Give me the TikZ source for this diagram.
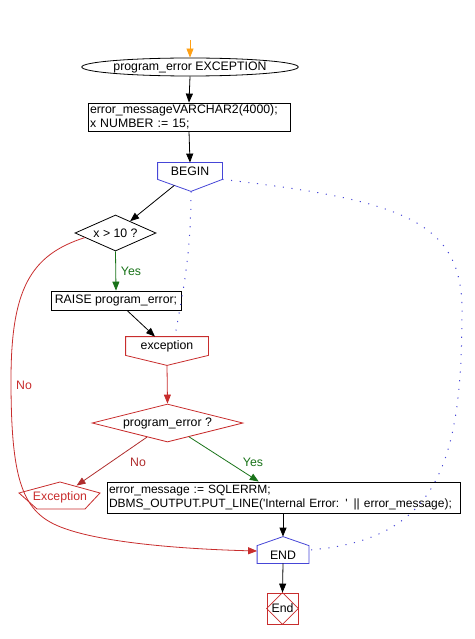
\documentclass[tikz,border=0pt]{standalone}
\usepackage{fontspec}
\setmainfont{Liberation Sans}[Ligatures=TeXOff]
\usetikzlibrary{arrows.meta,shapes.geometric,calc}
\definecolor{redc}{RGB}{200,45,45}
\definecolor{brownred}{RGB}{175,45,45}
\definecolor{greenc}{RGB}{25,115,25}
\definecolor{bluec}{RGB}{70,70,215}
\definecolor{orangec}{RGB}{255,160,20}
\begin{document}
\begin{tikzpicture}[x=1pt,y=-1pt,
  font=\fontsize{12.3pt}{13.5pt}\selectfont,
  every path/.style={line width=0.8pt},
  arr/.style={-{Triangle[length=9pt,width=7pt]}},
  dotline/.style={bluec, line width=1pt, dash pattern=on 1.1pt off 7.6pt},
  hidden/.style={rectangle, draw=none, inner sep=0pt},
  codebox/.style={rectangle, draw, inner xsep=2pt, inner ysep=0pt, align=left},
  lbl/.style={inner sep=0pt}]
\useasboundingbox (0,0) rectangle (474,639);

% start
\coordinate (start) at (190,40);
\node[ellipse, draw, minimum width=168pt, minimum height=18pt, inner sep=0pt] (decl) at (190,67) {program\_error EXCEPTION};
\draw[arr, orangec] (start) -- (decl);

% declarations
\node[codebox, minimum width=202pt, minimum height=28pt, text width=198pt] (box1) at (189,117) {error\_messageVARCHAR2(4000);\\x NUMBER := 15;};
\draw[arr] (decl.south) -- (box1.north);

% BEGIN
\node[hidden, minimum width=64pt, minimum height=16pt] (begin) at (190,171) {BEGIN};
\coordinate (bgtip) at ($(begin.south)+(1,12)$);
\draw[bluec] (begin.north west) -- (begin.north east) -- (begin.south east) -- (bgtip) -- (begin.south west) -- cycle;
\draw[arr] (box1.south) -- (begin.north);
\path (begin.south west) -- (bgtip) coordinate[pos=0.5] (bgedge);

% x > 10 ?
\node[diamond, draw, shape aspect=2.25, minimum width=81pt, minimum height=36pt, inner sep=0pt] (d1) at (115.5,233) {x > 10 ?};
\draw[arr] (bgedge) -- (d1);

% RAISE
\node[rectangle, draw, minimum width=130pt, minimum height=19pt, inner sep=0pt] (raise) at (116,300.5) {RAISE program\_error;};
\draw[arr, greenc] (d1.south) -- (raise.north);
\node[lbl, text=greenc] (yes1) at (131,271) {Yes};

% exception handler
\node[hidden, minimum width=82pt, minimum height=18pt] (exc) at (167,346) {exception};
\coordinate (exctip) at ($(exc.south)+(0,10)$);
\draw[redc] (exc.north west) -- (exc.north east) -- (exc.south east) -- (exctip) -- (exc.south west) -- cycle;
\draw[arr] ($(raise.south)+(11,0)$) -- ($(exc.north)+(-12,0)$);

% program_error ?
\node[diamond, draw=redc, shape aspect=4, minimum width=151pt, minimum height=38pt, inner sep=0pt] (d2) at (167.5,423) {program\_error ?};
\draw[arr, redc] (exctip) -- (d2.north);

% Exception (unhandled)
\node[hidden, minimum width=60pt, minimum height=22pt, text=redc] (exch) at (60,497) {Exception};
\draw[redc] (60,482) -- (100,493) -- (85,509) -- (37,509) -- (19,493) -- cycle;

% handler code
\node[codebox, minimum width=353pt, minimum height=31pt, text width=349pt, font=\fontsize{12pt}{13.5pt}\selectfont] (box2) at (283.5,497.5) {error\_message := SQLERRM;\\DBMS\_OUTPUT.PUT\_LINE('Internal Error: ' || error\_message);};

\draw[arr, brownred] (d2) -- (exch);
\node[lbl, text=brownred] (no2) at (138,462) {No};
\draw[arr, greenc] (d2) -- (box2);
\node[lbl, text=greenc] (yes2) at (253,462) {Yes};

% END
\node[hidden, minimum width=51pt, minimum height=16pt] (endn) at (283,555) {END};
\coordinate (endtop) at ($(endn.north)+(0,-10)$);
\draw[bluec] (endn.south west) -- ($(endn.north west)+(0,-1)$) -- (endtop) -- ($(endn.north east)+(0,-1)$) -- (endn.south east) -- cycle;
\draw[arr] (box2.south -| endn.north) -- (endtop);

% End terminal
\node[rectangle, draw=redc, minimum width=31pt, minimum height=31pt, inner sep=0pt] (fin) at (282.5,608.5) {End};
\draw[redc] (fin.north) -- (fin.east) -- (fin.south) -- (fin.west) -- cycle;
\draw[arr] (endn.south) -- (fin.north);

% No branch of x > 10 ?
\path (d1.west) -- (d1.south) coordinate[pos=0.25] (d1ll);
\draw[arr, redc] (d1ll) .. controls (30,255) and (11,290) .. (11,380)
  .. controls (11,470) and (20,505) .. (50,522)
  .. controls (85,542) and (180,549) .. ($(endn.west)+(0,-4)$);
\node[lbl, text=redc] (no1) at (24,385) {No};

% dotted flow lines
\draw[dotline] (begin.south east) .. controls (400,200) and (462,220) .. (462,310)
  .. controls (462,460) and (440,540) .. ($(endn.east)+(0,-5)$);
\draw[dotline] (bgtip) .. controls (191,260) and (181,300) .. ($(exc.north)+(8,0)$);
\end{tikzpicture}
\end{document}
